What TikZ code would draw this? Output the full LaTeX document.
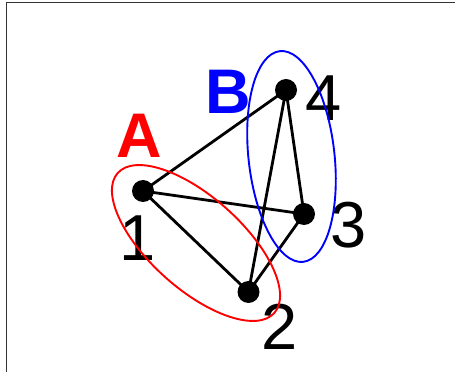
\documentclass[tikz,border=0pt]{standalone}
\usepackage{fontspec}
\setmainfont{Liberation Sans}
\begin{document}
\begin{tikzpicture}[x=1pt,y=1pt,
  vert/.style={circle,fill=black,inner sep=0pt,minimum size=22pt},
  edge/.style={line width=2.8pt,black},
  num/.style={anchor=base,inner sep=0pt,font=\fontsize{65}{65}\selectfont},
  grp/.style={anchor=base,inner sep=0pt,font=\fontsize{63}{63}\selectfont\bfseries},
  frame/.style={line width=1pt,draw=black!80}]
\useasboundingbox (0,0) rectangle (455,372);
\draw[frame] (6,0) -- (6,369.7) -- (455,369.7);
\coordinate (c1) at (143,181);
\coordinate (c2) at (248.5,80);
\coordinate (c3) at (304,158);
\coordinate (c4) at (286,282);
\draw[edge] (c1) -- (c4);
\draw[edge] (c1) -- (c3);
\draw[edge] (c1) -- (c2);
\draw[edge] (c4) -- (c2);
\draw[edge] (c4) -- (c3);
\draw[edge] (c3) -- (c2);
\node[num] (l1) at (138,111) {1};
\node[num] (l2) at (279.5,22) {2};
\node[num] (l3) at (348.5,124) {3};
\node[num] (l4) at (323.5,251) {4};
\node[grp,text=red] (gA) at (139,214) {A};
\node[grp,text=blue] (gB) at (228,258) {B};
\draw[red,line width=1.9pt] (196,129) ellipse[x radius=105,y radius=46,rotate=-41.8];
\draw[blue,line width=1.9pt] (291.5,215.5) ellipse[x radius=106,y radius=43,rotate=96.3];
\node[vert] (n1) at (c1) {};
\node[vert] (n2) at (c2) {};
\node[vert] (n3) at (c3) {};
\node[vert] (n4) at (c4) {};
\end{tikzpicture}
\end{document}
